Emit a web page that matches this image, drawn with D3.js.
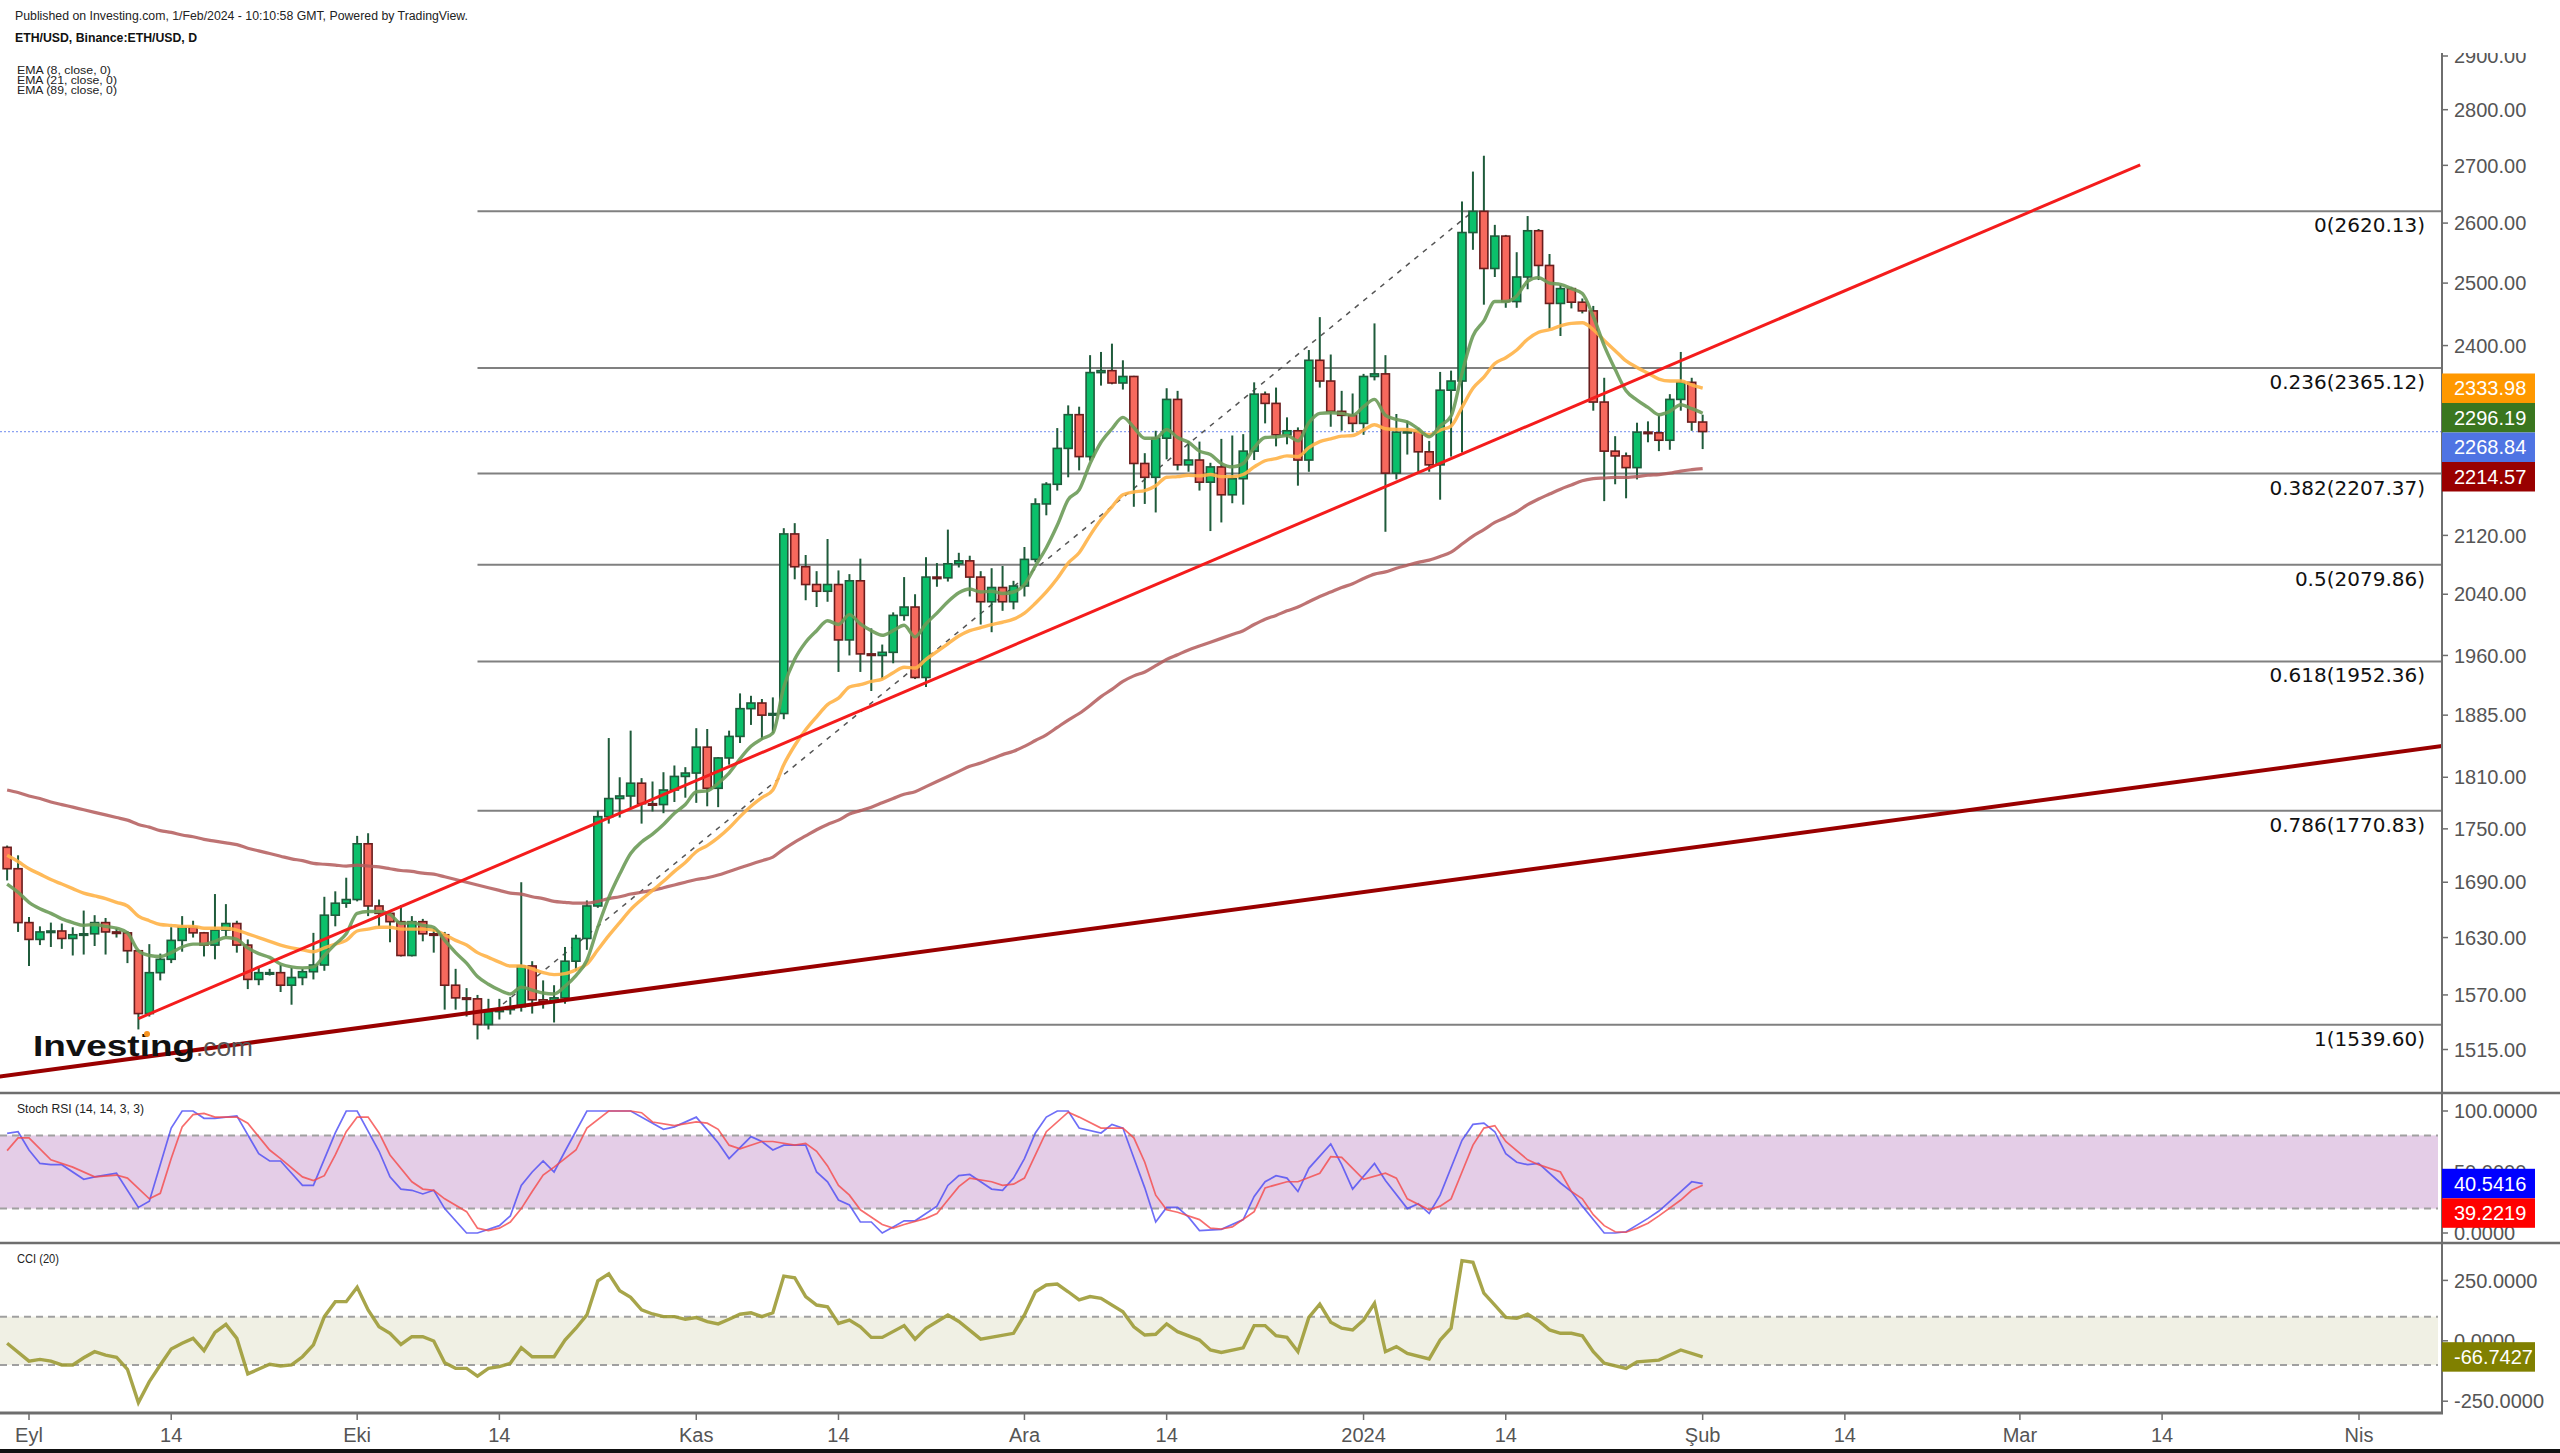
<!DOCTYPE html>
<html><head><meta charset="utf-8">
<script src="https://cdn.jsdelivr.net/npm/d3@7"></script>
<style>html,body{margin:0;padding:0;background:#fff;overflow:hidden}svg{display:block}</style>
</head><body><svg id="c" width="2560" height="1453"></svg>
<script>
// ---------------- DATA ----------------
const candleFirst = "2023-08-30";   // daily candles, consecutive days through 2024-02-01
const opens = [1729,1705,
1646,1628,1636,1637,1629,1633,1634,1646,1636,1635,1616,1551,1593,1607,1627,1641,1635,1622,1638,1645,1622,1586,1593,1593,1580,1588,1594,1601,1654,1667,
1671,1733,1664,1656,1647,1611,1647,1634,1633,1580,1567,1566,1540,1553,1555,1558,1600,1565,1563,1567,1605,1629,1664,1764,1785,1788,1803,1779,1778,1795,1811,
1815,1846,1797,1833,1859,1893,1900,1885,1887,2122,2077,2053,2044,2053,1980,2058,1962,1960,1964,2012,2023,1932,2063,2062,2081,2085,2063,2030,2049,2030,
2051,2087,2164,2192,2244,2294,2232,2358,2361,2342,2352,2222,2202,2259,2317,2220,2227,2195,2217,2177,2200,2240,2325,2311,2264,2270,2227,2377,2345,2299,2293,
2281,2352,2356,2208,2268,2268,2239,2220,2331,2345,2584,2620,2524,2578,2470,2510,2587,2529,2467,2491,2469,2455,2313,2240,2233,2216,2268,2267,2256,2317,2343,
2283];
const highs = [1731,1720,
1652,1642,1646,1645,1641,1659,1654,1651,1640,1637,1617,1623,1613,1641,1653,1648,1636,1677,1666,1648,1628,1600,1597,1601,1598,1597,1635,1674,1680,1695,
1742,1745,1671,1657,1665,1653,1650,1640,1636,1597,1577,1570,1566,1566,1568,1690,1605,1585,1580,1620,1633,1670,1771,1857,1810,1866,1809,1805,1816,1824,1822,
1869,1868,1834,1866,1912,1909,1905,1907,2130,2137,2093,2071,2115,2072,2067,2088,1995,1974,2016,2063,2040,2090,2082,2128,2096,2092,2071,2075,2078,2058,
2104,2172,2195,2274,2308,2306,2385,2390,2403,2377,2353,2237,2270,2334,2330,2255,2254,2223,2258,2263,2265,2343,2329,2335,2290,2275,2393,2445,2386,2330,2326,
2356,2435,2385,2295,2285,2274,2255,2359,2361,2637,2689,2717,2597,2580,2551,2612,2590,2548,2497,2494,2475,2463,2350,2262,2238,2282,2284,2293,2325,2390,2350,
2294];
const lows = [1692,1636,
1600,1622,1620,1618,1611,1612,1621,1612,1630,1603,1535,1548,1585,1603,1615,1630,1610,1607,1631,1614,1576,1580,1590,1573,1560,1580,1586,1595,1642,1662,
1669,1653,1642,1625,1610,1610,1626,1614,1555,1555,1548,1525,1535,1545,1550,1553,1551,1556,1542,1561,1595,1617,1662,1756,1763,1773,1756,1770,1768,1781,1786,
1780,1776,1775,1825,1851,1873,1855,1863,1880,2060,2032,2023,2030,1939,1960,1939,1915,1930,1950,2005,1930,1920,2050,2057,2076,2037,2000,1990,2018,2020,
2037,2083,2148,2183,2202,2212,2226,2338,2340,2332,2160,2164,2152,2228,2212,2210,2183,2126,2138,2165,2163,2227,2281,2247,2250,2190,2210,2335,2276,2270,2268,
2264,2346,2125,2199,2235,2210,2210,2170,2232,2238,2555,2465,2510,2460,2460,2490,2505,2427,2415,2459,2451,2300,2168,2192,2172,2199,2253,2240,2242,2300,2270,
2243];
const closes = [1705,1646,
1628,1636,1637,1629,1633,1634,1646,1636,1635,1616,1551,1593,1607,1627,1641,1635,1622,1638,1645,1622,1586,1593,1593,1580,1588,1594,1601,1654,1667,1671,
1733,1664,1656,1647,1611,1647,1634,1633,1580,1567,1566,1540,1553,1555,1558,1600,1565,1563,1567,1605,1629,1664,1764,1785,1788,1803,1779,1778,1795,1811,1815,
1846,1797,1833,1859,1893,1900,1885,1887,2122,2077,2053,2044,2053,1980,2058,1962,1960,1964,2012,2023,1932,2063,2062,2081,2085,2063,2030,2049,2030,2051,
2087,2164,2192,2244,2294,2232,2358,2361,2342,2352,2222,2202,2259,2317,2220,2227,2195,2217,2177,2200,2240,2325,2311,2264,2270,2227,2377,2345,2299,2293,2281,
2352,2356,2208,2268,2269,2239,2220,2331,2345,2584,2620,2524,2578,2470,2510,2587,2529,2467,2491,2469,2455,2313,2240,2233,2216,2268,2267,2256,2317,2343,2283,
2268.84];
const ema8 = [1688,1679,
1668,1661,1656,1650,1646,1643,1644,1642,1640,1635,1616,1611,1610,1614,1620,1623,1623,1626,1630,1628,1619,1613,1609,1602,1599,1598,1599,1611,1623,1634,
1656,1658,1658,1655,1645,1646,1643,1641,1627,1614,1603,1589,1581,1575,1571,1578,1575,1572,1571,1579,1590,1606,1641,1673,1699,1722,1735,1744,1755,1768,1778,
1793,1794,1803,1815,1832,1847,1856,1863,1920,1955,1977,1992,2005,2000,2013,2001,1992,1986,1992,1999,1984,2001,2015,2030,2042,2047,2043,2044,2041,2043,
2053,2078,2103,2134,2170,2184,2222,2253,2273,2290,2275,2259,2259,2272,2260,2253,2240,2235,2222,2217,2222,2245,2260,2261,2263,2255,2282,2296,2297,2296,2293,
2306,2317,2293,2287,2283,2273,2261,2277,2292,2357,2415,2439,2470,2470,2479,2503,2509,2500,2498,2491,2483,2446,2400,2363,2330,2316,2305,2294,2299,2309,2303,
2296.19];
const ema21 = [1720,1713,
1705,1699,1693,1688,1683,1678,1675,1672,1668,1664,1653,1648,1644,1643,1642,1642,1640,1640,1640,1638,1634,1630,1626,1622,1619,1617,1615,1619,1623,1627,
1637,1639,1641,1641,1639,1639,1639,1638,1633,1627,1622,1614,1609,1604,1600,1600,1597,1593,1591,1592,1596,1602,1617,1632,1646,1660,1671,1681,1691,1702,1712,
1724,1731,1740,1751,1764,1776,1786,1795,1825,1848,1867,1883,1898,1906,1920,1923,1927,1930,1938,1945,1944,1955,1965,1975,1985,1992,1996,2000,2003,2007,
2015,2028,2043,2061,2082,2096,2120,2142,2160,2177,2181,2183,2190,2202,2203,2205,2204,2206,2203,2203,2206,2217,2226,2229,2233,2232,2245,2254,2258,2262,2263,
2271,2279,2273,2272,2272,2269,2264,2271,2277,2305,2334,2351,2372,2381,2393,2410,2421,2425,2431,2435,2436,2425,2408,2392,2376,2366,2357,2348,2345,2345,2339,
2333.98];
const ema89 = [1795,1792,
1788,1785,1781,1778,1775,1772,1769,1766,1763,1760,1755,1752,1748,1746,1743,1741,1738,1736,1734,1732,1728,1725,1722,1719,1716,1714,1711,1710,1709,1708,
1709,1708,1707,1705,1703,1702,1700,1699,1696,1693,1690,1687,1684,1681,1678,1677,1674,1672,1669,1668,1667,1667,1669,1672,1674,1677,1679,1681,1684,1687,1690,
1693,1695,1698,1702,1706,1710,1714,1718,1727,1735,1742,1749,1755,1760,1767,1771,1775,1780,1785,1790,1793,1799,1805,1811,1817,1823,1827,1832,1837,1841,
1847,1854,1861,1870,1879,1887,1897,1908,1917,1927,1934,1939,1947,1955,1961,1967,1972,1977,1982,1987,1992,2000,2007,2012,2018,2023,2030,2037,2043,2049,2054,
2061,2067,2070,2075,2079,2083,2086,2091,2097,2108,2119,2128,2138,2145,2153,2163,2171,2178,2185,2191,2197,2200,2201,2202,2202,2203,2205,2206,2208,2211,2213,
2214.57];

// indicator points: day offset from 2023-09-01, value
const stochKDays = [-2,-1,0,1,2,3,5,6,8,10,11,13,14,15,16,17,19,21,22,23,25,26,28,29,30,32,33,34,35,36,37,38,40,41,43,44,45,46,47,48,49,51,55,58,59,61,63,64,66,67,68,69,71,72,73,74,75,76,77,78,79,80,81,83,84,85,86,87,88,89,90,91,92,93,94,95,96,98,99,100,102,103,104,105,106,107,109,111,112,113,114,115,116,117,119,120,121,123,124,126,127,128,129,131,132,133,134,135,136,137,138,140,141,142,144,145,146,148,149,151,152,153];
const stochK = [81.7,83,68,57,56,56,44,46,49,21,26,86,100,100,94,94,96,65,59,59,39,39,82,100,100,67,46,36,35,32,35,20,0,0,6,14,39,50,59,50,67,100,100,85,87,95,74,61,79,75,68,72,72,50,42,27,23,9,9,0,5,10,10,22,39,47,48,42,36,35,45,61,82,95,100,100,86,82,89,86,37,9,21,21,13,2,3,11,30,42,47,45,34,53,73,56,36,57,43,20,24,16,31,76,89,90,83,65,58,56,57,41,34,22,0,0,1,12,18,34,42,40.5416];
const stochDDays = [-2,-1,0,2,4,6,8,9,11,12,13,14,15,16,17,19,20,22,23,25,26,27,28,29,30,31,32,33,35,36,37,38,40,41,42,43,44,45,46,47,48,50,51,53,55,56,57,59,61,62,63,64,65,67,68,70,71,72,73,74,75,76,78,79,80,82,83,84,85,86,88,89,90,91,92,93,95,96,98,100,101,102,103,104,105,107,108,109,110,112,113,115,116,118,119,120,122,124,125,126,128,129,130,131,132,133,134,135,137,138,140,141,142,143,144,145,146,147,148,149,151,152,153];
const stochD = [67.5,78,78,60,54,46,47.5,45,28,32.5,61,87,97,98,95,95,90,68,61,46,43,47,64,83,95,95,82,64,42,36,35,28,17.5,4,2,4,9,20,34,47.5,54,68,86,100,100,98.6,91,88,91,90,85,72,69,75,75,72,73.5,67,55,39,31,19,7,4,7,12,16,27,38,45,42,39,40,45,64,83,99,95,86,86,78,58,31,19,17,11,4,3.3,5,17.5,37,42,42,49,62.5,62,44,49,45,28,19,22,28,50,72,86,88,75,60,56,50,34,28,15,6,1,0.6,4,8,14,27,35,39.2219];
const cciDays = [-2,0,1,2,3,4,5,6,7,8,9,10,11,12,13,14,15,16,17,18,19,20,22,23,24,25,26,27,28,29,30,31,32,33,34,35,36,37,38,39,40,41,42,43,44,45,46,48,49,50,51,52,53,54,55,56,57,58,59,60,61,62,63,64,65,66,67,68,69,70,71,72,73,74,75,76,77,78,80,81,82,84,85,87,90,91,92,93,94,95,96,97,98,100,101,102,103,104,105,107,108,109,111,112,113,114,115,116,117,118,119,120,121,122,123,124,125,126,128,129,130,131,132,133,134,135,136,137,138,139,140,141,142,143,144,146,147,149,151,153];
const cci = [-10,-84,-77,-84,-100,-100,-70,-45,-59,-68,-118,-256,-169,-100,-34,-10,10,-41,35,68,10,-137,-97,-104,-100,-66,-17,100,162,162,222,128,58,31,-15,17,17,-1,-91,-114,-114,-146,-114,-107,-93,-29,-66,-66,3,52,107,248,277,207,180,128,111,100,100,89,96,79,70,89,110,116,100,116,268,261,183,148,141,72,86,58,14,14,63,7,52,107,80,7,31,107,203,231,235,203,169,183,176,120,58,24,27,70,38,3,-38,-48,-29,63,63,21,14,-45,97,152,77,52,45,86,155,-45,-24,-52,-75,3,52,332,325,197,148,97,93,110,82,45,31,31,21,-45,-93,-114,-87,-80,-38,-66.7427];

// fibonacci retracement, trend lines, ticks
const fibLevels = [0, 0.236, 0.382, 0.5, 0.618, 0.786, 1];
const fibPrices = [2620.13, 2365.12, 2207.37, 2079.86, 1952.36, 1770.83, 1539.60];
const fibStart = "2023-10-12";
const fibDiag = [["2023-10-12", 1539.60], ["2024-01-11", 2620.13]];
const redTrend = [["2023-09-11", 1546], ["2024-03-12", 2701]];
const darkTrend = [["2023-08-29", 1488], ["2024-04-09", 1848]];
const lastPrice = 2268.84;
const priceTicks = [2900, 2800, 2700, 2600, 2500, 2400, 2120, 2040, 1960, 1885, 1810, 1750, 1690, 1630, 1570, 1515];
const stochTicks = [100, 50, 0];
const cciTicks = [250, 0, -250];
const xTickDates = ["2023-09-01","2023-09-14","2023-10-01","2023-10-14","2023-11-01","2023-11-14","2023-12-01","2023-12-14","2024-01-01","2024-01-14","2024-02-01","2024-02-14","2024-03-01","2024-03-14","2024-04-01"];
const xTickLabels = ["Eyl","14","Eki","14","Kas","14","Ara","14","2024","14","Şub","14","Mar","14","Nis"];
const mainTags = [[2333.98,"#ff9800"],[2296.19,"#3a761f"],[2268.84,"#4f74e3"],[2214.57,"#990000"]];
const stochTags = [[40.5416,"#0000ff"],[39.2219,"#ff0000"]];
const cciTags = [[-66.7427,"#808000"]];

// ---------------- LAYOUT ----------------
const AX = 2442, TOP = 48, MAIN_BOT = 1093, STOCH_BOT = 1243, CCI_BOT = 1413;
const parse = d3.utcParse("%Y-%m-%d");
const day0 = parse("2023-09-01");
const dayDate = n => d3.utcDay.offset(day0, n);
const x = d3.scaleUtc().domain([parse("2023-09-01"), parse("2024-04-01")]).range([29, 2359]);
const y = d3.scaleLog().domain([1515, 2900]).range([1049.5, 56]);
const ys = d3.scaleLinear().domain([0, 100]).range([1233, 1111]);
const yc = d3.scaleLinear().domain([-250, 250]).range([1401.2, 1280.4]);

const svg = d3.select("#c");
const defs = svg.append("defs");
defs.append("clipPath").attr("id","cm").append("rect").attr("x",0).attr("y",TOP).attr("width",AX).attr("height",MAIN_BOT-TOP);
defs.append("clipPath").attr("id","cs").append("rect").attr("x",0).attr("y",MAIN_BOT).attr("width",AX).attr("height",STOCH_BOT-MAIN_BOT);
defs.append("clipPath").attr("id","cc").append("rect").attr("x",0).attr("y",STOCH_BOT).attr("width",AX).attr("height",CCI_BOT-STOCH_BOT);
defs.append("clipPath").attr("id","ca").append("rect").attr("x",AX-2).attr("y",53).attr("width",2560-AX+2).attr("height",1453-53);
svg.append("rect").attr("width",2560).attr("height",1453).attr("fill","#fff");

const SANS = "'Liberation Sans', Arial, sans-serif";
const VERD = "'DejaVu Sans', Verdana, sans-serif";

// header
svg.append("text").attr("x",15).attr("y",20).attr("font-family",SANS).attr("font-size",12).attr("fill","#222")
  .attr("textLength",453).attr("lengthAdjust","spacingAndGlyphs")
  .text("Published on Investing.com, 1/Feb/2024 - 10:10:58 GMT, Powered by TradingView.");
svg.append("text").attr("x",15).attr("y",42).attr("font-family",SANS).attr("font-size",12).attr("font-weight","bold").attr("fill","#111")
  .attr("textLength",182).attr("lengthAdjust","spacingAndGlyphs").text("ETH/USD, Binance:ETH/USD, D");
[["EMA (8, close, 0)",74,94],["EMA (21, close, 0)",84,100],["EMA (89, close, 0)",94,100]].forEach(t=>{
  svg.append("text").attr("x",17).attr("y",t[1]).attr("font-family",SANS).attr("font-size",11).attr("fill","#222")
    .attr("textLength",t[2]).attr("lengthAdjust","spacingAndGlyphs").text(t[0]);
});

// ---------------- MAIN PANEL ----------------
const candleDates = d3.utcDay.range(parse(candleFirst), parse("2024-02-02"));
const N = Math.min(candleDates.length, opens.length, highs.length, lows.length, closes.length);
const gm = svg.append("g").attr("clip-path","url(#cm)");

// fib lines
const fx0 = x(parse(fibStart));
fibPrices.forEach((p,i)=>{
  gm.append("line").attr("x1",fx0).attr("x2",AX).attr("y1",y(p)).attr("y2",y(p)).attr("stroke","#808080").attr("stroke-width",2);
});
// current price dotted line
gm.append("line").attr("x1",0).attr("x2",AX).attr("y1",y(lastPrice)).attr("y2",y(lastPrice))
  .attr("stroke","#6f8cf0").attr("stroke-width",1.2).attr("stroke-dasharray","2,2").attr("opacity",0.8);

// fib diagonal
gm.append("line").attr("x1",x(parse(fibDiag[0][0]))).attr("y1",y(fibDiag[0][1]))
  .attr("x2",x(parse(fibDiag[1][0]))).attr("y2",y(fibDiag[1][1]))
  .attr("stroke","#555").attr("stroke-width",1.5).attr("stroke-dasharray","5,6");

// candles
const gc = gm.append("g");
for (let i=0;i<N;i++){
  const cx = x(candleDates[i]);
  const o=opens[i], c=closes[i], up = c>=o;
  gc.append("line").attr("x1",cx).attr("x2",cx).attr("y1",y(highs[i])).attr("y2",y(lows[i]))
    .attr("stroke","#1f5b3b").attr("stroke-width",2);
  const yt = y(Math.max(o,c)), yb = y(Math.min(o,c));
  gc.append("rect").attr("x",cx-4).attr("width",8).attr("y",yt).attr("height",Math.max(1.5,yb-yt))
    .attr("fill", up ? "#0bc06b" : "#f7695d").attr("stroke", up ? "#1f5b3b" : "#6a1d1d").attr("stroke-width",1.6);
}

// EMA lines
const emaLine = arr => d3.line().x((d,i)=>x(candleDates[i])).y(d=>y(d)).curve(d3.curveMonotoneX)(arr.slice(0,N));
gm.append("path").attr("d",emaLine(ema89)).attr("fill","none").attr("stroke","#b35a5a").attr("stroke-width",3.2).attr("opacity",0.85);
gm.append("path").attr("d",emaLine(ema21)).attr("fill","none").attr("stroke","#ffb347").attr("stroke-width",3.4).attr("opacity",0.9);
gm.append("path").attr("d",emaLine(ema8)).attr("fill","none").attr("stroke","#6b9b58").attr("stroke-width",3.4).attr("opacity",0.9);

// trend lines
gm.append("line").attr("x1",x(parse(darkTrend[0][0]))).attr("y1",y(darkTrend[0][1]))
  .attr("x2",x(parse(darkTrend[1][0]))).attr("y2",y(darkTrend[1][1])).attr("stroke","#990000").attr("stroke-width",4);
gm.append("line").attr("x1",x(parse(redTrend[0][0]))).attr("y1",y(redTrend[0][1]))
  .attr("x2",x(parse(redTrend[1][0]))).attr("y2",y(redTrend[1][1])).attr("stroke","#f41c1c").attr("stroke-width",3);

// logo
const logo = svg.append("g");
logo.append("text").attr("x",33).attr("y",1056).attr("font-family",SANS).attr("font-weight","bold").attr("font-size",30)
  .attr("fill","#111").attr("textLength",162).attr("lengthAdjust","spacingAndGlyphs").text("Investing");
logo.append("text").attr("x",196).attr("y",1056).attr("font-family",SANS).attr("font-size",25)
  .attr("fill","#555").attr("textLength",57).attr("lengthAdjust","spacingAndGlyphs").text(".com");
logo.append("circle").attr("cx",147).attr("cy",1034).attr("r",3).attr("fill","#f7931e");

// fib labels
fibPrices.forEach((p,i)=>{
  svg.append("text").attr("x",2425).attr("y",y(p)+21).attr("text-anchor","end").attr("font-family",VERD)
    .attr("font-size",20).attr("fill","#111").text(`${fibLevels[i]}(${p.toFixed(2)})`);
});

// ---------------- STOCH RSI ----------------
const gs = svg.append("g").attr("clip-path","url(#cs)");
gs.append("rect").attr("x",0).attr("width",AX-4).attr("y",ys(80)).attr("height",ys(20)-ys(80)).attr("fill","#e4cde7");
[80,20].forEach(v=>gs.append("line").attr("x1",0).attr("x2",AX-4).attr("y1",ys(v)).attr("y2",ys(v))
  .attr("stroke","#a0a0a0").attr("stroke-width",2).attr("stroke-dasharray","7,5"));
const sLine = (days, vals) => d3.line().x((d,i)=>x(dayDate(days[i]))).y(d=>ys(d))(vals);
gs.append("path").attr("d",sLine(stochKDays, stochK)).attr("fill","none").attr("stroke","#4a4af5").attr("stroke-width",1.7).attr("opacity",0.8);
gs.append("path").attr("d",sLine(stochDDays, stochD)).attr("fill","none").attr("stroke","#f54848").attr("stroke-width",1.7).attr("opacity",0.8);
svg.append("text").attr("x",17).attr("y",1113).attr("font-family",SANS).attr("font-size",12).attr("fill","#222")
  .attr("textLength",127).attr("lengthAdjust","spacingAndGlyphs").text("Stoch RSI (14, 14, 3, 3)");

// ---------------- CCI ----------------
const gcc = svg.append("g").attr("clip-path","url(#cc)");
gcc.append("rect").attr("x",0).attr("width",AX-4).attr("y",yc(100)).attr("height",yc(-100)-yc(100)).attr("fill","#f0f0e4");
[100,-100].forEach(v=>gcc.append("line").attr("x1",0).attr("x2",AX-4).attr("y1",yc(v)).attr("y2",yc(v))
  .attr("stroke","#a0a0a0").attr("stroke-width",2).attr("stroke-dasharray","7,5"));
gcc.append("path").attr("d",d3.line().x((d,i)=>x(dayDate(cciDays[i]))).y(d=>yc(d))(cci))
  .attr("fill","none").attr("stroke","#9d9b36").attr("stroke-width",3.4).attr("opacity",0.9);
svg.append("text").attr("x",17).attr("y",1263).attr("font-family",SANS).attr("font-size",12).attr("fill","#222")
  .attr("textLength",42).attr("lengthAdjust","spacingAndGlyphs").text("CCI (20)");

// ---------------- AXES / SEPARATORS ----------------
[MAIN_BOT, STOCH_BOT].forEach(yy=>svg.append("line").attr("x1",0).attr("x2",2560).attr("y1",yy).attr("y2",yy).attr("stroke","#6e6e6e").attr("stroke-width",2.5));
svg.append("line").attr("x1",0).attr("x2",AX+1).attr("y1",CCI_BOT).attr("y2",CCI_BOT).attr("stroke","#6e6e6e").attr("stroke-width",3);
svg.append("line").attr("x1",AX).attr("x2",AX).attr("y1",53).attr("y2",CCI_BOT+1).attr("stroke","#6e6e6e").attr("stroke-width",2);

const ga = svg.append("g").attr("clip-path","url(#ca)");
const tickLabel = (yy, txt) => {
  ga.append("line").attr("x1",AX).attr("x2",AX+6).attr("y1",yy).attr("y2",yy).attr("stroke","#6e6e6e").attr("stroke-width",1.5);
  ga.append("text").attr("x",2454).attr("y",yy).attr("dy","0.36em").attr("font-family",SANS).attr("font-size",20).attr("fill","#555").text(txt);
};
priceTicks.forEach(p=>tickLabel(y(p), p.toFixed(2)));
stochTicks.forEach(v=>tickLabel(ys(v), v.toFixed(4)));
cciTicks.forEach(v=>tickLabel(yc(v), v.toFixed(4)));

// x axis
xTickDates.forEach((d,i)=>{
  const xx = x(parse(d));
  svg.append("line").attr("x1",xx).attr("x2",xx).attr("y1",CCI_BOT).attr("y2",CCI_BOT+7).attr("stroke","#6e6e6e").attr("stroke-width",1.5);
  svg.append("text").attr("x",xx).attr("y",1442).attr("text-anchor","middle").attr("font-family",SANS).attr("font-size",20).attr("fill","#555").text(xTickLabels[i]);
});
svg.append("rect").attr("x",0).attr("y",1449).attr("width",2560).attr("height",4).attr("fill","#111");

// value tags (stacked to avoid overlap)
const TAG_H = 29.5;
function drawTags(tags, scale, digits){
  let prevBottom = -Infinity;
  tags.map(t=>({v:t[0], c:t[1], yy:scale(t[0])})).sort((a,b)=>a.yy-b.yy).forEach(t=>{
    const top = Math.max(t.yy - TAG_H/2, prevBottom);
    prevBottom = top + TAG_H;
    svg.append("rect").attr("x",AX).attr("y",top).attr("width",93).attr("height",TAG_H).attr("fill",t.c);
    svg.append("text").attr("x",2454).attr("y",top+TAG_H/2).attr("dy","0.36em").attr("font-family",SANS).attr("font-size",20)
      .attr("fill","#fff").text(t.v.toFixed(digits));
  });
}
drawTags(mainTags, y, 2);
drawTags(stochTags, ys, 4);
drawTags(cciTags, yc, 4);
</script></body></html>
